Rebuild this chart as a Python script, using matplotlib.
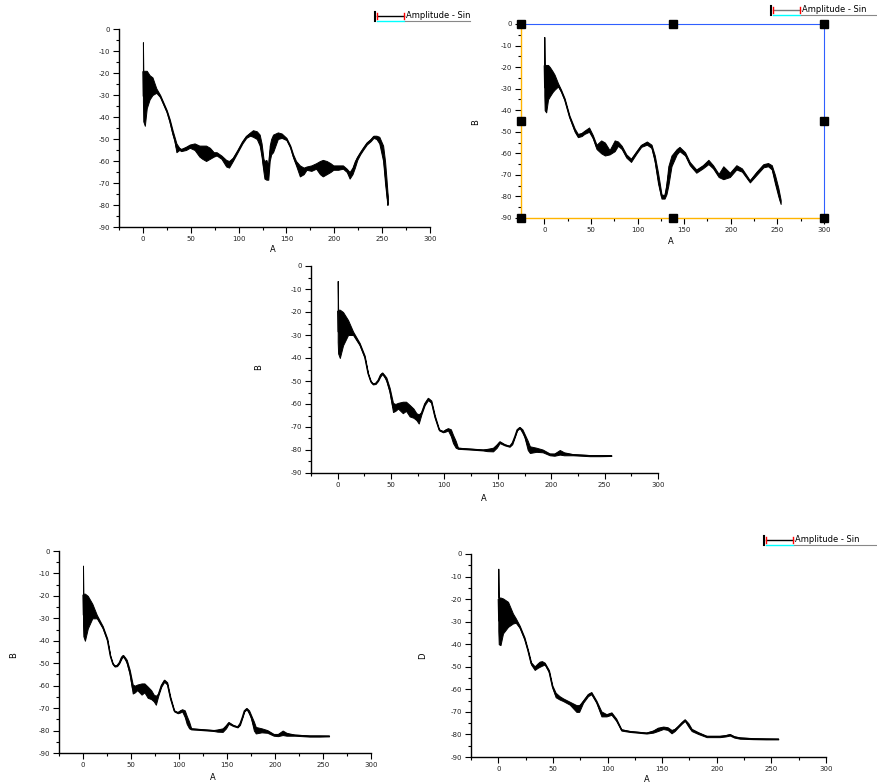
import matplotlib
matplotlib.use("Agg")
import matplotlib.pyplot as plt
from matplotlib.ticker import MultipleLocator
from matplotlib.transforms import Bbox, TransformedBbox

# ---- data: x, upper and lower edge of the noisy trace ----
p1_x = [0, 0.4, 2, 4, 7, 10, 14, 18, 21, 25, 28, 31, 33, 35, 38, 40, 45, 49, 54, 59,
        62, 66, 70, 74, 77, 82, 87, 90, 94, 99, 104, 108, 112, 115, 119, 122, 124, 126,
        127, 129, 131, 132.5, 134, 136, 141, 145, 150, 154, 157, 160, 164, 168, 171,
        176, 181, 185, 188, 192, 196, 199, 204, 209, 213, 216, 219, 221.5, 224, 227,
        230, 234, 238, 241, 244, 247, 249, 251, 253, 254.5, 255.5, 256]
p1_hi = [-6, -19, -19, -19, -21, -22, -27, -30, -33, -37, -41, -46, -49, -52, -54, -54.5,
         -53.5, -52.5, -52, -53, -53, -53, -54, -56, -56, -57.5, -59.5, -60, -58.5, -55,
         -51, -48.5, -47, -46, -46.5, -48, -52, -59, -60, -59.5, -62, -53, -50, -48, -47,
         -47.5, -49.5, -53, -57, -60, -62, -63, -62.5, -62, -61, -60, -59.5, -60, -61,
         -62, -62, -62, -63.5, -65, -63, -60, -58, -56, -54, -51.5, -50, -48.5, -48.5,
         -49, -51, -53, -60, -68, -74, -76]
p1_lo = [-33, -42, -44, -36, -32, -30, -29, -31, -34, -38, -42.5, -48, -51, -56, -55,
         -55.5, -55, -54, -55, -58, -59, -60, -59, -58, -57.5, -59, -62.5, -63, -60, -56,
         -52, -49.5, -48.5, -49, -50, -53, -58, -65, -68, -68.5, -68.5, -60, -57, -56,
         -50, -49.5, -50.5, -54, -58.5, -62, -67, -66, -64, -64.5, -63.5, -66, -67, -66,
         -65, -64, -64, -63.5, -65, -68, -66, -63, -59.5, -57, -55, -52.5, -51, -49.5,
         -50, -52, -56, -60, -70, -76, -80, -79]

p2_x = [0, 0.4, 2, 4, 6, 9, 11, 14.7, 18, 21.8, 27, 32.6, 36, 40, 43, 48, 52, 56, 61,
        65, 70, 75.5, 79, 83, 88, 93, 99, 104, 110, 115, 118.5, 122, 125.7, 129, 131,
        133, 136.4, 142, 145, 151, 156, 163, 170, 176, 181, 187, 192, 199, 206, 212,
        220.5, 227.7, 235, 240, 244, 247.4, 251, 253.5]
p2_hi = [-6, -19, -19, -19, -20, -22, -23.5, -27.5, -30.5, -34.5, -42.5, -48.5, -51,
         -50.5, -49.5, -48, -51.5, -56, -54, -55, -58.5, -54, -54.5, -56.5, -60.5, -62.5,
         -59, -56, -54.5, -56, -61, -69, -79, -79.5, -74, -66, -61, -58, -57, -59.5, -64,
         -67.5, -65.5, -63, -65.5, -69.5, -66, -69, -65.5, -67, -72.5, -68.5, -65, -64.5,
         -65.5, -70, -76, -81.5]
p2_lo = [-33, -40, -41, -35, -33.5, -31.5, -30.5, -29, -31.5, -35.5, -43.5, -50, -52.5,
         -52, -51, -50, -53, -58, -60, -61, -60.5, -59, -56.5, -58, -62, -64, -60, -57,
         -56, -57.5, -64, -74, -81, -81, -79, -75, -66, -60.5, -59, -61, -65.5, -69, -67,
         -65, -67, -71, -72, -71, -67.5, -68.5, -73.5, -70, -66.5, -66, -67.5, -74, -80,
         -83.5]

# panels 3 and 4 show the same trace
p3_x = [0, 0.4, 2, 5, 9.7, 14.4, 20.6, 25.3, 28.4, 31, 33, 35.5, 37.8, 40, 41.8, 44,
        45.6, 48.7, 51.8, 54, 56.5, 61, 64, 67.4, 71, 73.7, 75.9, 78.4, 81.5, 84.6,
        87.7, 91, 95, 98.7, 101, 103.3, 106, 108, 110.5, 112.7, 120.4, 136, 140, 145.5,
        149, 151.7, 156.4, 161, 163.5, 165.8, 168, 170.5, 173, 175, 178, 180, 186, 192,
        198.6, 203, 208, 212, 220.4, 236, 246, 256.3]
p3_hi = [-6.5, -19, -19, -20, -23.5, -28.5, -33.5, -39, -46.5, -50, -51, -50.8, -49.5,
         -47, -46.3, -47.5, -48.5, -53, -59.5, -60, -59.5, -59, -59, -60.4, -62, -64,
         -64.5, -63.5, -59.5, -57.3, -58.5, -65, -71, -71.8, -71, -70.5, -71, -73.4, -76,
         -79, -79.3, -79.8, -79.5, -79, -77.5, -76.2, -77.5, -78.2, -76.5, -74, -71, -70,
         -71, -73, -76, -78.4, -79, -79.8, -81.5, -81.5, -80, -81, -81.8, -82.2, -82.2,
         -82.3]
p3_lo = [-33, -38, -40, -34.5, -30, -30, -34.5, -40, -47, -50.5, -51.5, -51.3, -50, -48,
         -47, -48.5, -50, -55, -63.5, -63, -62, -64, -63, -65.4, -66, -67, -68.5, -64.5,
         -60.5, -58.3, -59.5, -66, -71.5, -72.3, -72, -71.5, -74, -77, -79, -79.5, -79.7,
         -80.2, -80.5, -80.6, -79, -77, -78, -78.6, -77.5, -74.5, -71.5, -70.5, -72.5,
         -74.5, -80, -81.3, -80.8, -81, -82.3, -82.5, -82, -82.3, -82.3, -82.7, -82.7,
         -82.6]

p5_x = [0, 0.4, 2, 4.3, 8.9, 13.4, 16, 19.6, 24, 27, 30, 33.3, 36, 37.9, 40, 42.5, 46.4,
        49.5, 52.5, 56, 59.3, 65.4, 71.5, 74, 77.6, 82.2, 85.2, 89.8, 94.4, 99, 103.6,
        108, 112.7, 120.4, 135.7, 141.8, 146, 151, 155, 158.6, 161.5, 164.7, 168, 170.8,
        174, 177, 183, 190.7, 196, 202.9, 208, 212, 216, 221.2, 233.4, 245, 256.3]
p5_hi = [-6.5, -19.3, -19.3, -19.7, -21.2, -26.4, -28.5, -31.8, -37, -42.2, -48, -49.8,
         -48.5, -47.7, -47.5, -48.2, -51.5, -58.3, -61.5, -63, -64, -65.5, -67, -67, -65,
         -62, -61.2, -65, -69.8, -71, -70.2, -73, -77.7, -78.5, -79.2, -78.2, -77, -76.5,
         -76.8, -78, -77.5, -76.2, -74.5, -73.3, -75, -77.5, -79, -80.6, -80.6, -80.6,
         -80.3, -79.8, -80.8, -81.3, -81.7, -81.8, -81.9]
p5_lo = [-34, -40, -40.4, -35.2, -32.3, -30.8, -30.5, -32.8, -38, -43, -49, -51.4, -50.5,
         -50, -49.5, -49, -52.5, -59.3, -63.5, -64.5, -65.2, -66.8, -70, -70, -66, -63,
         -62.2, -66, -72, -72, -71.3, -74, -78.3, -78.9, -79.6, -79.2, -78.5, -77.6, -78,
         -79.5, -78.5, -76.8, -75.2, -74, -76.5, -78.5, -79.8, -81.2, -81.2, -81.2, -80.9,
         -80.5, -81.4, -81.9, -82.1, -82.2, -82.2]

x_ticks = [0, 50, 100, 150, 200, 250, 300]
y_ticks = [0, -10, -20, -30, -40, -50, -60, -70, -80, -90]
legend_text = "Amplitude - Sin"

W, H = 877, 783
plt.rcParams['font.family'] = ['DejaVu Sans']
plt.rcParams['axes.unicode_minus'] = False
fig = plt.figure(figsize=(W / 100, H / 100), dpi=100)


def px(x, y):
    return x / W, 1 - y / H


def make_axes(left, right, top, bottom):
    ax = fig.add_axes([left / W, 1 - bottom / H, (right - left) / W, (bottom - top) / H])
    ax.set_xlim(-25, 300)
    ax.set_ylim(-90, 0)
    ax.set_xticks(x_ticks)
    ax.set_yticks(y_ticks)
    ax.xaxis.set_minor_locator(MultipleLocator(25))
    ax.yaxis.set_minor_locator(MultipleLocator(5))
    ax.tick_params(which='major', direction='out', length=4, width=0.8, labelsize=5,
                   pad=2.5, labelcolor='#222222')
    ax.tick_params(which='minor', direction='out', length=2, width=0.8)
    ax.spines['top'].set_visible(False)
    ax.spines['right'].set_visible(False)
    for s in ('left', 'bottom'):
        ax.spines[s].set_linewidth(1.0)
    return ax


def trace(ax, x, hi, lo):
    ax.fill_between(x, lo, hi, color='black', lw=0.7)
    mid = [(a + b) / 2 for a, b in zip(hi, lo)]
    ax.plot(x, mid, color='black', lw=0.9)


def legend(x0, y, clip_right=None, line_color='black'):
    # small Origin-style legend box, partly cut off
    fig.add_artist(plt.Line2D([x0 / W, x0 / W], [1 - (y - 4) / H, 1 - (y + 5) / H],
                              color='black', lw=1.5))
    fig.add_artist(plt.Line2D([(x0 + 2) / W, (x0 + 29) / W], [1 - y / H] * 2,
                              color=line_color, lw=1.0))
    for cx in (x0 + 2, x0 + 29):
        fig.add_artist(plt.Line2D([cx / W, cx / W], [1 - (y - 3) / H, 1 - (y + 3) / H],
                                  color='red', lw=1.0))
    fig.add_artist(plt.Line2D([(x0 + 2) / W, (x0 + 29) / W], [1 - (y + 5) / H] * 2,
                              color='cyan', lw=1.0))
    right = clip_right if clip_right else W
    fig.add_artist(plt.Line2D([(x0 + 30) / W, right / W], [1 - (y + 5) / H] * 2,
                              color='#888888', lw=0.8))
    t = fig.text(*px(x0 + 31, y), legend_text, fontsize=6, va='center', ha='left')
    if clip_right:
        t.set_clip_box(TransformedBbox(Bbox([[0, 0], [clip_right / W, 1]]), fig.transFigure))
        t.set_clip_on(True)


# panel 1 (top left)
ax1 = make_axes(119, 430, 29, 227)
trace(ax1, p1_x, p1_hi, p1_lo)
fig.text(*px(273, 250), "A", fontsize=6, ha='center', va='center')
legend(375, 16, clip_right=470)

# panel 2 (top right, selected in Origin)
ax2 = make_axes(521, 824, 24, 218)
trace(ax2, p2_x, p2_hi, p2_lo)
ax2.spines['top'].set_visible(True)
ax2.spines['right'].set_visible(True)
ax2.spines['top'].set_color('#2f5fff')
ax2.spines['right'].set_color('#2f5fff')
ax2.spines['left'].set_color('#ffb400')
ax2.spines['bottom'].set_color('#ffb400')
handles_x = [0, 0.5, 1, 0, 1, 0, 0.5, 1]
handles_y = [0, 0, 0, 0.5, 0.5, 1, 1, 1]
ax2.plot(handles_x, handles_y, 's', color='black', ms=5.5, transform=ax2.transAxes,
         clip_on=False, zorder=5)
fig.text(*px(476, 122), "B", fontsize=6, ha='center', va='center', rotation=90)
fig.text(*px(671, 242), "A", fontsize=6, ha='center', va='center')
legend(771, 10, line_color='#777777')

# panel 3 (middle)
ax3 = make_axes(311, 658, 266, 473)
trace(ax3, p3_x, p3_hi, p3_lo)
fig.text(*px(259, 367), "B", fontsize=6, ha='center', va='center', rotation=90)
fig.text(*px(484, 498), "A", fontsize=6, ha='center', va='center')

# panel 4 (bottom left)
ax4 = make_axes(59, 371, 551, 753)
trace(ax4, p3_x, p3_hi, p3_lo)
fig.text(*px(14, 655), "B", fontsize=6, ha='center', va='center', rotation=90)
fig.text(*px(213, 778), "A", fontsize=6, ha='center', va='center')

# panel 5 (bottom right)
ax5 = make_axes(471, 826, 554, 757)
trace(ax5, p5_x, p5_hi, p5_lo)
fig.text(*px(423, 656), "D", fontsize=6, ha='center', va='center', rotation=90)
fig.text(*px(647, 780), "A", fontsize=6, ha='center', va='center')
legend(764, 540)

fig.savefig("out.png", dpi=100)
